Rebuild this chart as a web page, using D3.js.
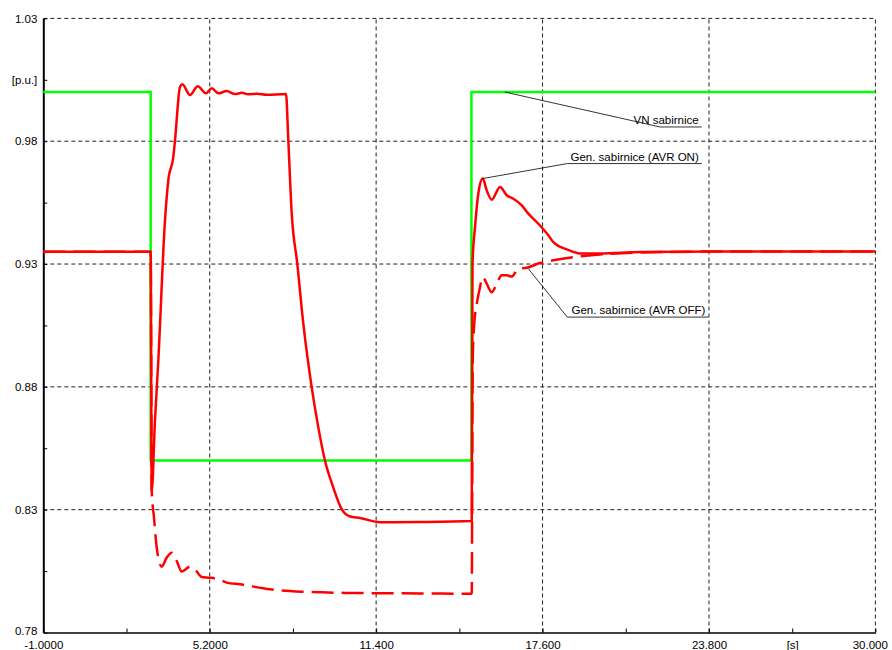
<!DOCTYPE html>
<html>
<head>
<meta charset="utf-8">
<script src="https://cdn.jsdelivr.net/npm/d3@7"></script>
<style>
  body { margin: 0; background: #fff; }
  text { font-family: Arial, "Liberation Sans", sans-serif; }
</style>
</head>
<body>
<div id="chart"></div>
<script>
/**
 * CONSTANTS AND GLOBALS
 * */
const width = 892,
  height = 650,
  margin = { top: 18.4, bottom: 17.5, left: 43.3, right: 16.6 };

// x ticks every 3.1 s, labels only on every second one
const xTicks = [-1, 2.1, 5.2, 8.3, 11.4, 14.5, 17.6, 20.7, 23.8, 26.9, 30];
const xTickLabels = ["-1.0000", "", "5.2000", "", "11.400", "", "17.600", "", "23.800", "[s]", "30.000"];
const xGrid = [5.2, 11.4, 17.6, 23.8, 30];

const yTicks = [0.78, 0.805, 0.83, 0.855, 0.88, 0.905, 0.93, 0.955, 0.98, 1.005, 1.03];
const yTickLabels = ["0.78", "", "0.83", "", "0.88", "", "0.93", "", "0.98", "[p.u.]", "1.03"];
const yGrid = [0.83, 0.88, 0.93, 0.98, 1.03];

// VN sabirnice [time s, voltage p.u.]
const vnSabirnice = [
  [-1, 1.0], [3.0, 1.0], [3.0, 0.85], [14.95, 0.85], [14.95, 1.0], [30, 1.0]
];

// Gen. sabirnice (AVR ON)
const genAvrOn = [
  [-1, 0.935], [3.0, 0.935], [3.04, 0.8377], [3.16, 0.8662], [3.285, 0.8907],
  [3.534, 0.9478], [3.657, 0.9641], [3.844, 0.9736], [3.907, 0.9804], [4.093, 1.0021],
  [4.179, 1.0032], [4.466, 0.9988], [4.753, 1.0024], [5.062, 0.9995], [5.274, 1.0016],
  [5.52, 0.9995], [5.833, 1.0004], [6.142, 0.9992], [6.392, 0.9997], [6.638, 0.9991],
  [6.951, 0.9993], [7.323, 0.9989], [8.043, 0.9992], [8.128, 0.9804], [8.255, 0.9506],
  [8.463, 0.9301], [8.687, 0.9057], [9.0, 0.8798], [9.246, 0.8635], [9.496, 0.8499],
  [9.805, 0.839], [10.118, 0.8302], [10.427, 0.8272], [10.8, 0.8266], [11.545, 0.8249],
  [13.035, 0.825], [14.961, 0.8254], [14.99, 0.9302], [15.084, 0.9451], [15.207, 0.9587],
  [15.371, 0.9648], [15.52, 0.96], [15.706, 0.9562], [16.016, 0.9614], [16.265, 0.958],
  [16.511, 0.9566], [16.824, 0.9539], [17.07, 0.9505], [17.443, 0.9464], [17.815, 0.9417],
  [18.002, 0.9389], [18.501, 0.936], [18.996, 0.9343], [19.741, 0.9343], [21.232, 0.9349],
  [24.212, 0.9351], [30, 0.9351]
];

// Gen. sabirnice (AVR OFF)
const genAvrOff = [
  [-1, 0.935], [3.0, 0.935], [3.04, 0.8377], [3.124, 0.8268], [3.225, 0.8146],
  [3.411, 0.8068], [3.598, 0.8105], [3.784, 0.8125], [3.97, 0.8091], [4.157, 0.8048],
  [4.466, 0.8068], [4.652, 0.8057], [4.902, 0.8026], [5.211, 0.8023], [5.52, 0.8017],
  [5.833, 0.8003], [6.329, 0.7996], [7.446, 0.7976], [8.676, 0.7966], [10.427, 0.7961],
  [13.035, 0.7959], [14.961, 0.7958], [14.998, 0.8907], [15.047, 0.9043], [15.148, 0.9138],
  [15.244, 0.9192], [15.371, 0.9247], [15.52, 0.922], [15.706, 0.9185], [15.893, 0.922],
  [16.079, 0.9254], [16.265, 0.9254], [16.452, 0.9249], [16.698, 0.9281], [17.011, 0.9285],
  [17.506, 0.9304], [18.002, 0.9315], [18.996, 0.9331], [21.232, 0.9347], [24.21, 0.9351],
  [30, 0.9351]
];

// annotation leaders: [curve point, elbow, underline end] in data units
const labels = [
  { text: "VN sabirnice", pts: [[16.2, 1.0], [21.98, 0.9858], [23.53, 0.9858]] },
  { text: "Gen. sabirnice (AVR ON)", pts: [[15.37, 0.9648], [18.52, 0.9709], [23.53, 0.9709]] },
  { text: "Gen. sabirnice (AVR OFF)", pts: [[17.07, 0.9281], [18.52, 0.9084], [23.78, 0.9084]] }
];

const svg = d3.select("#chart")
  .append("svg")
  .attr("width", width)
  .attr("height", height);

const x = d3.scaleLinear().domain([-1, 30]).range([margin.left, width - margin.right]);
const y = d3.scaleLinear().domain([0.78, 1.03]).range([height - margin.bottom, margin.top]);

// grid lines
svg.append("g")
  .selectAll("line.vgrid")
  .data(xGrid)
  .join("line")
  .attr("class", "vgrid")
  .attr("x1", d => x(d)).attr("x2", d => x(d))
  .attr("y1", y(0.78)).attr("y2", y(1.03))
  .attr("stroke", "#222")
  .attr("stroke-dasharray", "4,3");

svg.append("g")
  .selectAll("line.hgrid")
  .data(yGrid)
  .join("line")
  .attr("class", "hgrid")
  .attr("x1", x(-1)).attr("x2", x(30))
  .attr("y1", d => y(d)).attr("y2", d => y(d))
  .attr("stroke", "#222")
  .attr("stroke-dasharray", "4,3");

// axes
const xAxis = svg.append("g")
  .attr("transform", `translate(0,${y(0.78)})`)
  .call(d3.axisBottom(x).tickValues(xTicks).tickSize(-4).tickSizeOuter(0)
    .tickFormat((d, i) => xTickLabels[i]));
xAxis.select(".domain").attr("stroke-width", 1.5);
xAxis.selectAll(".tick text")
  .attr("y", 16.8).attr("dy", 0)
  .style("font-size", "11.5px").attr("fill", "#000");
xAxis.selectAll(".tick").filter(d => d === 30).select("text").attr("text-anchor", "end").attr("dx", 12);

const yAxis = svg.append("g")
  .attr("transform", `translate(${x(-1)},0)`)
  .call(d3.axisLeft(y).tickValues(yTicks).tickSize(-4).tickSizeOuter(0)
    .tickFormat((d, i) => yTickLabels[i]));
yAxis.select(".domain").attr("stroke-width", 2);
yAxis.selectAll(".tick text").attr("x", -6).style("font-size", "11.5px").attr("fill", "#000");
yAxis.selectAll(".tick").filter(d => d === 0.78).select("text").attr("dy", "0.2em");

// series
const line = d3.line().x(d => x(d[0])).y(d => y(d[1]));
const smooth = d3.line().x(d => x(d[0])).y(d => y(d[1])).curve(d3.curveMonotoneX);

svg.append("path")
  .datum(vnSabirnice)
  .attr("d", line)
  .attr("fill", "none")
  .attr("stroke", "#00ff00")
  .attr("stroke-width", 2.5);

svg.append("path")
  .datum(genAvrOff)
  .attr("d", smooth)
  .attr("fill", "none")
  .attr("stroke", "#ff0000")
  .attr("stroke-width", 2.5)
  .attr("stroke-dasharray", "22,8");

svg.append("path")
  .datum(genAvrOn)
  .attr("d", smooth)
  .attr("fill", "none")
  .attr("stroke", "#ff0000")
  .attr("stroke-width", 2.5);

// annotations
const ann = svg.append("g")
  .selectAll("g.ann")
  .data(labels)
  .join("g")
  .attr("class", "ann");

ann.append("path")
  .attr("d", d => line(d.pts))
  .attr("fill", "none")
  .attr("stroke", "#000")
  .attr("stroke-width", 0.8);

ann.append("text")
  .attr("x", d => x(d.pts[2][0]) - 3)
  .attr("y", d => y(d.pts[2][1]) - 3)
  .attr("text-anchor", "end")
  .style("font-size", "11.5px")
  .text(d => d.text);
</script>
</body>
</html>
